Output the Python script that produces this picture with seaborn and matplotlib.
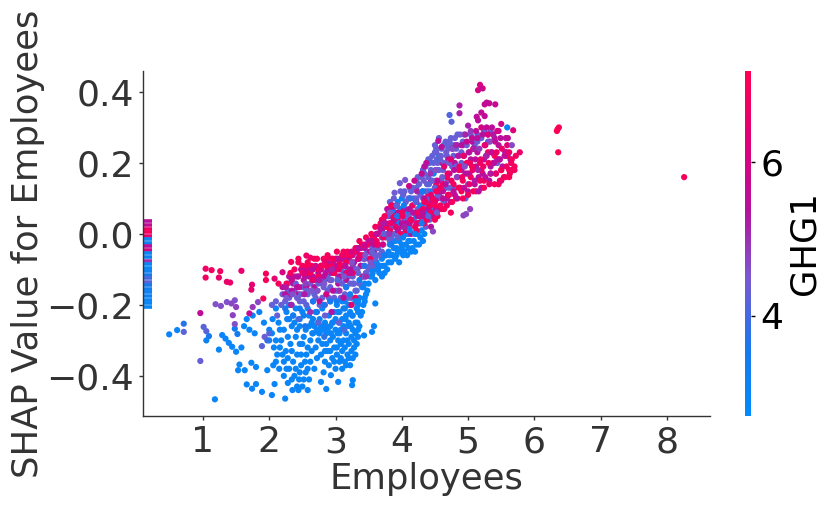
import matplotlib
matplotlib.use("Agg")
import matplotlib.pyplot as plt
import seaborn as sns
import pandas as pd
from matplotlib.colors import LinearSegmentedColormap, Normalize
from matplotlib.cm import ScalarMappable

# lone points, each with its own GHG1
sparse_x = [0.49, 0.61, 0.71, 0.71, 1.01, 1.05, 1.09, 1.05, 0.96, 0.96,
            1.18, 1.24, 1.29, 1.34, 1.39, 1.44, 1.50, 1.58, 1.48, 1.52,
            1.66, 1.80, 1.74, 1.89, 2.04, 2.24, 2.08, 1.55, 1.53, 1.63,
            1.73, 1.80, 1.97, 2.06, 2.58, 2.86, 3.26, 3.25, 3.04, 2.93,
            2.78, 3.60, 3.58, 3.55, 3.43,
            1.04, 1.13, 1.26, 1.04, 1.24, 1.36, 1.41, 1.58, 1.74, 1.73,
            1.95, 1.95, 2.08, 2.20, 2.33, 2.44, 2.56, 2.62, 1.91, 1.70,
            1.19, 1.27, 1.36, 1.48, 1.43, 1.50, 1.45, 1.48, 1.75, 1.83,
            1.93, 1.89, 1.97, 2.00,
            3.97, 3.89, 4.05, 4.47, 4.93, 5.03, 4.97, 4.75, 4.60, 4.55,
            4.37, 4.34, 4.30, 4.19, 4.11, 4.72, 4.87, 4.87, 5.00, 5.18,
            5.15, 5.22, 5.25, 5.28, 5.32, 5.13, 5.15, 5.20, 5.25, 5.41,
            5.50, 5.59, 5.68, 5.78, 6.35, 6.37, 6.34, 6.36, 8.26]
sparse_y = [-.283, -.271, -.253, -.276, -.262, -.274, -.288, -.300, -.358, -.223,
            -.466, -.326, -.285, -.295, -.307, -.318, -.332, -.320, -.267, -.282,
            -.424, -.423, -.436, -.445, -.454, -.464, -.423, -.368, -.384, -.384,
            -.363, -.375, -.384, -.370, -.440, -.437, -.412, -.426, -.417, -.398,
            -.417, -.196, -.260, -.276, -.286,
            -.098, -.102, -.105, -.123, -.123, -.135, -.137, -.104, -.143, -.157,
            -.112, -.130, -.126, -.108, -.079, -.070, -.061, -.067, -.182, -.224,
            -.198, -.203, -.192, -.187, -.196, -.206, -.229, -.254, -.206, -.192,
            -.290, -.316, -.300, -.280,
            .143, .116, .152, .007, .052, .070, .056, .316, .245, .262,
            .200, .190, .170, .150, .135, .335, .362, .340, .305, .420,
            .405, .410, .365, .370, .368, .330, .320, .342, .332, .365,
            .310, .300, .292, .230, .295, .300, .290, .230, .160]
sparse_c = [3.0, 3.0, 3.7, 4.2, 4.2, 4.2, 3.6, 3.1, 4.3, 5.6,
            3.0, 3.0, 3.0, 3.0, 3.0, 3.0, 3.0, 3.0, 3.4, 3.4,
            3.0, 3.0, 3.0, 3.0, 3.0, 3.0, 3.0, 3.0, 3.0, 3.0,
            3.0, 3.0, 3.0, 3.0, 3.0, 3.0, 3.0, 3.0, 3.0, 3.0,
            3.0, 3.0, 3.0, 3.0, 3.0,
            6.8, 6.8, 6.8, 6.8, 6.6, 6.6, 6.6, 6.5, 6.5, 6.5,
            6.9, 6.9, 6.5, 6.0, 6.8, 6.9, 6.7, 6.7, 7.0, 5.6,
            4.6, 4.6, 4.6, 4.6, 4.7, 4.8, 4.8, 4.6, 4.9, 4.7,
            4.4, 4.2, 3.9, 4.1,
            4.4, 4.4, 4.5, 4.7, 4.8, 4.8, 4.7, 4.2, 5.5, 5.5,
            5.5, 5.4, 5.7, 5.8, 5.9, 4.1, 5.2, 5.2, 5.2, 6.1,
            6.0, 5.8, 5.7, 5.6, 5.7, 5.6, 5.5, 5.6, 5.6, 5.7,
            5.9, 3.0, 6.2, 6.6, 7.1, 7.1, 7.1, 7.0, 6.9]

# the blue lower part of the cloud
low_x = [1.62, 1.70, 1.78, 1.66, 1.75, 1.85, 1.92, 2.00, 2.05, 2.10,
         2.00, 2.07, 2.12, 2.18, 2.25, 2.22, 2.15, 2.22, 2.30, 2.28,
         2.35, 2.42, 2.38, 2.45, 2.50, 2.36, 2.42, 2.48, 2.55, 2.32,
         2.40, 2.50, 2.56, 2.62, 2.60, 2.68, 2.72, 2.70, 2.62, 2.55,
         2.30, 2.38, 2.46, 2.22, 2.14, 2.30, 2.40, 2.50, 2.60, 2.68,
         2.76, 2.80, 2.78, 2.84, 2.82, 2.90, 2.95, 2.88, 2.92, 2.98,
         3.02, 3.06, 3.00, 3.10, 3.14, 3.18, 3.22, 3.26, 3.10, 3.04,
         3.12, 3.20, 3.28, 3.16, 3.24, 3.30, 3.08, 3.00, 2.92, 2.84,
         2.76, 2.70, 2.80, 2.90, 3.00, 3.10, 3.20, 3.30, 3.36, 3.38,
         3.32, 3.22, 3.12, 3.02, 2.92, 3.36, 3.42, 3.46, 3.50, 3.40,
         3.55, 3.60, 3.66, 3.70, 3.74, 3.78, 3.84, 3.90, 3.96, 4.02,
         4.08, 4.14, 4.20, 4.26, 4.32, 3.94, 4.00, 4.06, 4.12, 4.18,
         3.70, 3.62, 3.55, 3.80, 3.88, 4.24, 4.30, 3.86, 3.92, 3.98,
         3.04, 3.14, 3.24, 3.34, 3.46, 3.52, 3.64, 3.76, 3.86, 3.96]
low_y = [-.26, -.27, -.28, -.24, -.23, -.22, -.25, -.27, -.24, -.21,
         -.30, -.32, -.34, -.30, -.33, -.36, -.38, -.40, -.38, -.42,
         -.44, -.43, -.40, -.41, -.43, -.36, -.34, -.37, -.39, -.31,
         -.29, -.31, -.34, -.36, -.41, -.38, -.35, -.32, -.30, -.27,
         -.24, -.25, -.26, -.27, -.25, -.20, -.21, -.22, -.23, -.26,
         -.28, -.31, -.34, -.36, -.39, -.37, -.35, -.33, -.30, -.32,
         -.34, -.36, -.38, -.38, -.36, -.34, -.37, -.35, -.33, -.30,
         -.30, -.31, -.32, -.28, -.29, -.28, -.27, -.27, -.26, -.25,
         -.24, -.22, -.21, -.23, -.24, -.24, -.25, -.25, -.26, -.23,
         -.21, -.22, -.21, -.20, -.19, -.18, -.20, -.17, -.14, -.15,
         -.12, -.13, -.11, -.12, -.09, -.10, -.08, -.07, -.08, -.06,
         -.06, -.05, -.05, -.03, -.02, -.05, -.03, -.03, -.02, -.02,
         -.07, -.08, -.08, -.05, -.04, .00, .01, .03, .05, .07,
         -.22, -.19, -.20, -.20, -.11, -.09, -.10, -.06, -.06, -.02]

# the purple middle of the cloud
mid_x = [2.10, 2.20, 2.30, 2.28, 2.38, 2.46, 2.50, 2.58, 2.66, 2.62,
         2.72, 2.80, 2.88, 2.84, 2.76, 2.94, 3.00, 3.08, 3.16, 3.24,
         3.04, 3.12, 3.20, 3.28, 3.34, 3.26, 3.40, 3.44, 3.36, 3.50,
         3.56, 3.48, 3.60, 3.66, 3.72, 3.68, 3.76, 3.82, 3.80, 3.74,
         3.88, 3.94, 4.00, 4.06, 4.12, 4.18, 3.84, 3.92, 4.00, 4.06,
         4.12, 4.18, 4.24, 4.30, 4.36, 4.42, 4.14, 4.22, 4.28, 4.34,
         4.40, 4.46, 4.30, 4.38, 4.44, 4.50, 4.56, 4.36, 4.44, 4.52,
         4.58, 4.64, 4.46, 4.54, 4.62, 4.70, 4.50, 4.60, 4.68, 4.76,
         4.72, 4.80, 4.78, 4.86, 4.92, 4.96, 5.00, 5.10, 5.20, 5.30,
         4.56, 4.66, 4.74, 4.84, 4.94, 5.04, 5.14, 5.24, 5.34, 5.44,
         4.24, 4.34, 4.42, 4.50, 4.60, 4.70, 4.82, 4.90, 5.02, 5.60]
mid_y = [-.19, -.17, -.18, -.14, -.16, -.19, -.15, -.17, -.19, -.14,
         -.16, -.18, -.16, -.13, -.12, -.13, -.16, -.18, -.15, -.18,
         -.12, -.11, -.12, -.14, -.11, -.09, -.12, -.09, -.07, -.10,
         -.06, -.05, -.03, -.06, -.03, .00, -.01, -.02, .02, .02,
         .00, .01, .02, .00, .02, .04, .05, .08, .06, .09,
         .07, .10, .07, .04, .02, .04, .12, .13, .11, .08,
         .09, .07, .16, .14, .12, .10, .07, .19, .18, .15,
         .12, .09, .22, .20, .18, .15, .25, .24, .22, .19,
         .11, .13, .25, .22, .26, .10, .14, .25, .27, .26,
         .27, .26, .27, .28, .28, .28, .28, .29, .29, .20,
         .16, .17, .21, .23, .20, .25, .24, .20, .23, .22]

# the magenta band
high_x = [2.20, 2.30, 2.36, 2.42, 2.48, 2.54, 2.60, 2.66, 2.70, 2.78,
          2.84, 2.90, 2.96, 3.02, 3.08, 3.14, 3.20, 3.26, 3.32, 3.38,
          3.42, 3.50, 3.56, 3.62, 3.58, 3.66, 3.72, 3.80, 3.86, 3.90,
          2.30, 2.44, 2.56, 2.68, 2.80, 2.92, 3.04, 3.16, 3.28, 3.44,
          4.10, 4.16, 4.24, 4.30, 4.36, 4.42, 4.48, 4.54, 4.50, 4.58,
          4.60, 4.66, 4.72, 4.74, 4.80, 4.84, 4.80, 4.88, 4.90, 4.94,
          5.00, 5.02, 5.04, 5.06, 5.10, 5.12, 5.14, 5.20, 5.22, 5.24,
          5.26, 5.30, 5.32, 5.34, 5.36, 5.40, 5.42, 5.44, 5.46, 5.50,
          5.52, 5.56, 5.60, 5.64, 3.96, 4.02, 4.08, 4.70, 4.96, 5.16,
          4.44, 4.62, 4.76, 4.92, 5.08, 5.28, 5.38, 5.48, 5.58, 5.66]
high_y = [-.15, -.12, -.14, -.12, -.10, -.12, -.10, -.12, -.09, -.10,
          -.08, -.10, -.08, -.09, -.07, -.09, -.07, -.06, -.05, -.04,
          -.06, -.03, -.02, .00, -.05, .02, .04, .05, .07, .03,
          -.17, -.17, -.15, -.15, -.14, -.13, -.14, -.13, -.10, -.07,
          .04, .06, .03, .07, .05, .08, .05, .10, .13, .15,
          .10, .13, .17, .09, .11, .16, .20, .13, .18, .22,
          .12, .17, .21, .26, .14, .19, .23, .13, .17, .21,
          .25, .28, .15, .19, .23, .27, .17, .21, .25, .15,
          .19, .23, .27, .21, .02, .00, .02, .21, .17, .16,
          .15, .20, .24, .25, .24, .22, .20, .21, .23, .18]

# the red rim along the top of the cloud
top_x = [2.14, 2.26, 2.38, 2.50, 2.58, 2.64, 2.72, 2.82, 2.88, 2.96,
         3.02, 3.06, 3.12, 3.18, 3.24, 3.30, 3.36, 3.46, 3.54, 3.60,
         3.66, 3.70, 3.76, 3.80, 3.90, 3.94, 4.02, 4.08, 4.20, 4.28,
         4.34, 4.40, 4.46, 4.50, 4.52, 4.56, 4.64, 4.68, 4.70, 4.78,
         4.82, 4.86, 4.92, 4.98, 5.04, 5.08, 5.12, 5.18, 5.24, 5.30,
         5.34, 5.40, 5.46, 5.50, 5.54, 5.58, 5.62, 5.66, 5.70, 5.62,
         3.20, 3.30, 3.42, 4.12, 4.40, 4.52, 4.74, 4.90, 5.06, 5.20]
top_y = [-.14, -.14, -.10, -.09, -.08, -.09, -.07, -.07, -.06, -.07,
         -.05, -.08, -.05, -.05, -.08, -.04, -.02, -.01, .00, .02,
         .00, .04, .02, .06, .06, .04, .03, .05, .02, .05,
         .03, .06, .09, .04, .14, .11, .07, .16, .11, .14,
         .10, .18, .15, .20, .16, .24, .12, .20, .15, .23,
         .17, .22, .14, .18, .16, .22, .18, .21, .19, .16,
         -.20, -.18, -.12, .10, .11, .18, .06, .12, .19, .18]

# second pass over the blue part, drawn over the first red rim
low2_x = [2.04, 2.10, 2.16, 2.16, 2.20, 2.10, 2.28, 2.34, 2.28, 2.26,
          2.34, 2.40, 2.46, 2.44, 2.52, 2.48, 2.54, 2.58, 2.46, 2.52,
          2.58, 2.64, 2.66, 2.60, 2.74, 2.72, 2.78, 2.86, 2.86, 2.84,
          2.92, 2.96, 2.98, 3.02, 3.06, 3.08, 3.08, 3.14, 3.18, 3.16,
          3.20, 3.24, 3.28, 3.30, 3.32, 3.34, 3.26, 3.34, 3.18, 3.12,
          3.06, 2.96, 2.88, 2.80, 2.74, 2.66, 2.58, 2.46, 2.36, 2.26,
          3.06, 3.16, 3.26, 3.34, 3.40, 3.44, 3.30, 3.20, 3.10, 2.98,
          3.48, 3.52, 3.44, 3.56, 3.62, 3.68, 3.74, 3.80, 3.86, 3.92,
          3.98, 4.04, 4.10, 4.16, 4.22, 4.28, 4.34, 4.20, 4.10, 3.76,
          3.82, 3.90, 3.96, 4.02, 4.08, 4.14, 3.90, 3.96, 4.02, 4.08,
          3.88, 3.94, 4.00, 4.22, 4.28, 4.36, 4.32, 4.40, 4.48, 4.56]
low2_y = [-.28, -.30, -.27, -.32, -.34, -.36, -.29, -.33, -.35, -.38,
          -.41, -.38, -.39, -.44, -.41, -.34, -.36, -.38, -.31, -.29,
          -.32, -.33, -.28, -.26, -.30, -.27, -.26, -.28, -.31, -.33,
          -.33, -.29, -.36, -.32, -.28, -.31, -.35, -.32, -.30, -.37,
          -.35, -.33, -.30, -.34, -.31, -.29, -.27, -.27, -.26, -.26,
          -.25, -.25, -.27, -.27, -.25, -.24, -.21, -.24, -.23, -.22,
          -.22, -.23, -.23, -.22, -.22, -.19, -.19, -.20, -.19, -.22,
          -.16, -.12, -.14, -.10, -.10, -.09, -.11, -.08, -.06, -.06,
          -.05, -.05, -.04, -.04, -.03, -.01, .00, .00, .00, -.06,
          -.03, -.02, -.01, .00, .02, .04, .02, .03, .05, .06,
          .06, .09, .10, .05, .08, .06, .12, .12, .17, .22]

mid2_x = [2.04, 2.12, 2.18, 2.24, 2.34, 2.42, 2.40, 2.52, 2.56, 2.64,
          2.70, 2.76, 2.74, 2.84, 2.90, 2.82, 2.92, 2.98, 3.04, 3.10,
          3.14, 3.20, 3.22, 3.30, 3.36, 3.44, 3.38, 3.30, 3.18, 3.08,
          2.98, 3.42, 3.50, 3.54, 3.60, 3.64, 3.56, 3.70, 3.70, 3.78,
          3.84, 3.86, 3.78, 3.82, 3.88, 3.96, 4.04, 4.10, 4.16, 4.10,
          4.04, 3.98, 4.16, 4.22, 4.26, 4.32, 4.36, 4.42, 4.32, 4.40,
          4.46, 4.50, 4.54, 4.60, 4.40, 4.48, 4.56, 4.60, 4.66, 4.72,
          4.74, 4.82, 4.52, 4.58, 4.64, 4.70, 4.78, 4.84, 4.90, 4.98,
          5.06, 5.14, 2.28, 2.48, 2.68, 2.88, 3.06, 3.26, 3.46, 3.62]
mid2_y = [-.20, -.23, -.20, -.19, -.20, -.18, -.14, -.19, -.16, -.16,
          -.18, -.20, -.14, -.20, -.18, -.15, -.15, -.18, -.16, -.14,
          -.17, -.18, -.14, -.16, -.14, -.12, -.09, -.10, -.10, -.10,
          -.11, -.07, -.07, -.09, -.07, -.04, -.04, -.05, -.01, .00,
          -.01, .02, .05, .09, .10, .06, .04, .05, .08, .10,
          .12, .12, .13, .10, .14, .10, .12, .10, .18, .16,
          .15, .13, .11, .10, .21, .20, .18, .15, .13, .13,
          .21, .19, .23, .21, .20, .24, .22, .25, .23, .25,
          .27, .26, -.16, -.17, -.17, -.12, -.13, -.12, -.11, -.09]

high2_x = [2.24, 2.34, 2.42, 2.52, 2.60, 2.68, 2.74, 2.82, 2.88, 2.94,
           3.00, 3.06, 3.10, 3.16, 3.22, 3.28, 3.34, 3.38, 3.44, 3.52,
           3.58, 3.64, 3.70, 3.76, 3.82, 3.88, 3.94, 4.00, 4.06, 4.12,
           4.18, 4.24, 4.28, 4.34, 4.40, 4.46, 4.52, 4.56, 4.62, 4.68,
           2.38, 2.54, 2.66, 2.78, 2.90, 3.02, 3.12, 3.24, 3.36, 3.50,
           3.58, 3.68, 3.78, 3.86, 3.94, 4.04, 4.14, 4.22, 4.34, 4.44]
high2_y = [-.17, -.16, -.15, -.13, -.12, -.13, -.11, -.12, -.10, -.11,
           -.10, -.12, -.09, -.11, -.10, -.08, -.07, -.09, -.04, -.05,
           -.01, -.03, .01, .03, .03, .04, .06, .03, .03, .03,
           .06, .05, .03, .05, .07, .09, .07, .12, .12, .10,
           -.12, -.10, -.10, -.09, -.08, -.07, -.07, -.06, -.06, -.02,
           -.03, .01, .07, .08, .01, .07, .00, .09, .10, .02]

top2_x = [2.32, 2.44, 2.56, 2.68, 2.78, 2.86, 2.94, 3.00, 3.10, 3.16,
          3.22, 3.28, 3.34, 3.40, 3.48, 3.56, 3.62, 3.68, 3.74, 3.82,
          3.88, 3.98, 4.06, 4.14, 4.22, 4.32, 4.38, 4.44, 4.50, 4.54,
          2.50, 2.62, 2.74, 2.86, 2.98, 3.08, 3.18, 3.26, 3.38, 3.52,
          3.72, 3.84, 3.92, 4.00, 4.16, 4.26, 4.36, 4.46, 4.58, 4.62]
top2_y = [-.11, -.08, -.09, -.07, -.09, -.07, -.09, -.07, -.06, -.08,
          -.06, -.05, -.04, -.03, -.03, -.01, -.02, .03, .05, .01,
          .05, .00, .01, .04, .01, .07, .04, .06, .08, .05,
          -.11, -.11, -.12, -.09, -.11, -.09, -.11, -.11, -.06, -.07,
          -.01, .08, .08, .06, .08, .03, .09, .10, .08, .14]

# the middle of the cloud, colours mixed point by point
mix_x = [2.25, 2.26, 2.24, 2.27,
         2.34, 2.35, 2.33, 2.36, 2.34,
         2.44, 2.45, 2.43, 2.46, 2.44, 2.42,
         2.54, 2.55, 2.53, 2.56, 2.52, 2.54,
         2.64, 2.65, 2.63, 2.66, 2.62, 2.64, 2.65,
         2.74, 2.75, 2.73, 2.76, 2.72, 2.74, 2.75,
         2.84, 2.85, 2.83, 2.86, 2.82, 2.84, 2.85, 2.83,
         2.94, 2.95, 2.93, 2.96, 2.92, 2.94, 2.95, 2.93,
         3.04, 3.05, 3.03, 3.06, 3.02, 3.04, 3.05, 3.03,
         3.14, 3.15, 3.13, 3.16, 3.12, 3.14, 3.15, 3.13,
         3.24, 3.25, 3.23, 3.26, 3.22, 3.24, 3.25, 3.23,
         3.34, 3.35, 3.33, 3.36, 3.32, 3.34, 3.35, 3.33,
         3.44, 3.45, 3.43, 3.46, 3.42, 3.44,
         3.54, 3.55, 3.53, 3.56,
         3.62, 3.63, 3.61, 3.64,
         3.72, 3.73, 3.71, 3.74, 3.72,
         3.82, 3.83, 3.81, 3.84, 3.82,
         3.92, 3.93, 3.91, 3.94, 3.92,
         4.02, 4.03, 4.01, 4.04, 4.02, 4.00,
         4.12, 4.13, 4.11, 4.14, 4.12, 4.10,
         4.22, 4.23, 4.21, 4.24, 4.22, 4.20,
         4.32, 4.33, 4.31, 4.34, 4.32, 4.30,
         4.42, 4.43, 4.41, 4.44, 4.42, 4.40,
         4.52, 4.53, 4.51, 4.54, 4.52, 4.50, 4.53]
mix_y = [-.15, -.18, -.21, -.24,
         -.13, -.17, -.20, -.23, -.26,
         -.12, -.15, -.18, -.21, -.24, -.27,
         -.11, -.14, -.17, -.20, -.23, -.26,
         -.10, -.13, -.16, -.19, -.22, -.25, -.28,
         -.10, -.13, -.16, -.19, -.22, -.25, -.28,
         -.08, -.11, -.14, -.17, -.20, -.23, -.26, -.29,
         -.07, -.10, -.13, -.16, -.19, -.22, -.25, -.28,
         -.07, -.10, -.13, -.16, -.19, -.22, -.25, -.28,
         -.06, -.09, -.12, -.15, -.18, -.21, -.24, -.27,
         -.05, -.08, -.11, -.14, -.17, -.20, -.23, -.26,
         -.04, -.07, -.10, -.13, -.16, -.19, -.22, -.25,
         -.03, -.06, -.09, -.12, -.15, -.18,
         -.02, -.05, -.08, -.11,
         .00, -.03, -.06, -.09,
         .03, .00, -.03, -.06, -.09,
         .06, .03, .00, -.03, -.06,
         .08, .05, .02, -.01, -.04,
         .11, .08, .05, .02, -.01, -.04,
         .13, .10, .07, .04, .01, -.02,
         .15, .12, .09, .06, .03, .00,
         .18, .15, .12, .09, .06, .03,
         .20, .17, .14, .11, .08, .05,
         .24, .21, .18, .15, .12, .09, .06]
mix_c = [5.3, 4.5, 3.6, 3.2,
         5.8, 4.6, 5.2, 3.5, 3.1,
         5.4, 5.6, 4.4, 3.4, 4.0, 3.0,
         6.2, 4.8, 5.3, 4.2, 3.3, 3.6,
         5.6, 6.5, 4.5, 3.5, 5.0, 3.2, 3.1,
         6.6, 5.3, 4.6, 5.6, 3.4, 4.2, 3.0,
         6.5, 5.6, 4.5, 6.0, 3.6, 4.4, 3.2, 3.8,
         6.8, 5.2, 4.4, 5.5, 3.5, 5.4, 3.2, 3.0,
         5.6, 6.6, 4.2, 5.0, 3.4, 3.2, 4.3, 3.0,
         6.7, 5.4, 4.5, 3.5, 5.6, 3.3, 3.1, 4.0,
         6.0, 4.6, 5.5, 4.3, 3.4, 6.5, 3.2, 3.0,
         5.4, 6.2, 4.4, 3.6, 4.2, 3.1, 3.0, 3.0,
         5.8, 4.5, 3.7, 5.0, 3.2, 3.0,
         5.5, 4.3, 4.6, 3.1,
         5.6, 6.6, 4.3, 3.2,
         5.3, 4.2, 6.0, 3.4, 3.0,
         4.5, 6.7, 5.0, 3.5, 3.0,
         4.2, 3.6, 6.5, 4.2, 3.0,
         4.3, 3.4, 6.8, 5.2, 3.2, 3.0,
         4.2, 3.8, 5.4, 6.8, 3.3, 3.0,
         4.3, 5.2, 4.1, 6.7, 6.5, 3.1,
         4.2, 4.4, 3.6, 6.8, 5.4, 3.4,
         4.1, 5.0, 4.2, 6.5, 6.8, 4.2,
         4.3, 4.2, 4.6, 5.8, 6.8, 6.7, 4.4]

# densest stretch of the band, colours mixed point by point
band_x = [4.60, 4.62, 4.58, 4.61, 4.64, 4.59, 4.63,
          4.68, 4.70, 4.66, 4.69, 4.71, 4.67, 4.72,
          4.76, 4.78, 4.75, 4.79, 4.74, 4.77, 4.80,
          4.84, 4.86, 4.83, 4.87, 4.85, 4.82, 4.88,
          4.92, 4.94, 4.91, 4.95, 4.93, 4.90, 4.96,
          5.00, 5.02, 4.99, 5.03, 5.01, 4.98, 5.04,
          5.08, 5.10, 5.07, 5.11, 5.09, 5.06, 5.12,
          5.16, 5.18, 5.15, 5.19, 5.17, 5.14, 5.20,
          5.24, 5.26, 5.23, 5.27, 5.25, 5.22, 5.28,
          5.32, 5.34, 5.31, 5.35, 5.33, 5.30, 5.36,
          5.40, 5.42, 5.39, 5.43, 5.41, 5.38, 5.44,
          5.48, 5.50, 5.47, 5.51, 5.49, 5.46,
          5.56, 5.58, 5.55, 5.59, 5.57,
          5.63, 5.65, 5.62, 5.66, 5.70, 5.72]
band_y = [.07, .10, .13, .16, .19, .22, .25,
          .08, .11, .14, .17, .20, .23, .26,
          .09, .12, .15, .18, .21, .24, .27,
          .10, .13, .16, .19, .22, .25, .28,
          .10, .13, .16, .19, .22, .25, .28,
          .11, .14, .17, .20, .23, .26, .29,
          .12, .15, .18, .21, .24, .27, .29,
          .12, .15, .18, .21, .24, .27, .30,
          .13, .16, .19, .22, .25, .28, .30,
          .14, .17, .20, .23, .26, .28, .30,
          .14, .17, .20, .23, .26, .28, .29,
          .15, .18, .21, .24, .27, .29,
          .16, .19, .22, .25, .27,
          .17, .20, .23, .25, .18, .22]
band_c = [6.9, 5.5, 6.8, 4.4, 6.5, 4.3, 4.2,
          6.8, 6.9, 5.4, 6.7, 4.5, 4.4, 4.3,
          6.9, 5.5, 6.8, 5.6, 6.4, 4.6, 4.3,
          5.4, 6.9, 4.8, 6.8, 5.3, 5.2, 4.4,
          6.9, 5.6, 6.7, 4.6, 6.6, 5.4, 5.2,
          6.8, 6.6, 5.4, 6.8, 5.5, 5.7, 4.9,
          6.9, 5.3, 6.7, 5.5, 5.2, 5.6, 5.6,
          5.4, 6.8, 5.2, 6.6, 4.9, 5.5, 6.0,
          6.9, 5.5, 6.7, 5.2, 6.5, 5.4, 5.7,
          6.6, 5.3, 6.8, 5.6, 4.7, 6.2, 5.5,
          6.9, 6.6, 5.4, 6.7, 5.6, 5.3, 5.8,
          6.7, 6.9, 5.4, 6.6, 5.5, 6.0,
          6.9, 6.7, 5.5, 6.4, 5.6,
          6.9, 6.8, 6.7, 4.7, 6.9, 6.8]

# points without an Employees value, drawn as ticks on the left spine
nan_shap = [.035, .025, .015, .005, -.005, -.015, -.025, -.035, -.045, -.055,
            -.065, -.075, -.085, -.095, -.105, -.115, -.125, -.135, -.145, -.155,
            -.165, -.175, -.185, -.195, -.205]
nan_ghg = [5.4, 5.6, 6.8, 6.9, 6.5, 3.0, 3.2, 5.5, 6.0, 3.0,
           3.1, 5.0, 3.0, 2.9, 3.1, 3.6, 4.0, 4.2, 3.6, 3.3,
           3.2, 3.1, 3.0, 2.9, 2.9]

low_level, mid_level, high_level, top_level = 3.0, 4.3, 5.4, 6.9

frames = [
    pd.DataFrame({"x": low_x, "y": low_y, "c": low_level}),
    pd.DataFrame({"x": mid_x, "y": mid_y, "c": mid_level}),
    pd.DataFrame({"x": high_x, "y": high_y, "c": high_level}),
    pd.DataFrame({"x": top_x, "y": top_y, "c": top_level}),
    pd.DataFrame({"x": low2_x, "y": low2_y, "c": low_level}),
    pd.DataFrame({"x": mid2_x, "y": mid2_y, "c": mid_level}),
    pd.DataFrame({"x": high2_x, "y": high2_y, "c": high_level}),
    pd.DataFrame({"x": top2_x, "y": top2_y, "c": top_level}),
    pd.DataFrame({"x": mix_x, "y": mix_y, "c": mix_c}),
    pd.DataFrame({"x": band_x, "y": band_y, "c": band_c}),
    pd.DataFrame({"x": sparse_x, "y": sparse_y, "c": sparse_c}),
]
df = pd.concat(frames, ignore_index=True)

red_blue = LinearSegmentedColormap.from_list(
    "red_blue",
    [(0.0, "#008bfb"), (0.2, "#1a78ee"), (0.4, "#7b58cf"),
     (0.6, "#b6109f"), (0.8, "#e00078"), (1.0, "#ff0051")],
)
norm = Normalize(2.7, 7.18)

sns.set_style("white")
W, H = 831, 508
fig = plt.figure(figsize=(W / 100, H / 100), dpi=100)
ax = fig.add_axes([143 / W, 1 - 416 / H, 567 / W, 345 / H])

sns.scatterplot(data=df, x="x", y="y", hue="c", palette=red_blue, hue_norm=norm,
                s=20, linewidth=0, legend=False, ax=ax)
ax.scatter([0.095] * len(nan_shap), nan_shap, c=nan_ghg, cmap=red_blue, norm=norm,
           marker=1, s=44, linewidths=2.6)

ax.set_xlim(0.095, 8.65)
ax.set_ylim(-0.513, 0.459)
ax.set_xticks(range(1, 9))
ax.set_yticks([-0.4, -0.2, 0.0, 0.2, 0.4])
ax.set_xlabel("Employees", fontsize=25.5, color="#333333", labelpad=2)
ax.set_ylabel("SHAP Value for Employees", fontsize=25.5, color="#333333", labelpad=1)
ax.tick_params(labelsize=26, colors="#333333", length=3, width=1, left=True, bottom=True)
sns.despine(ax=ax)
for side in ["left", "bottom"]:
    ax.spines[side].set_color("#333333")
    ax.spines[side].set_linewidth(1)

cax = fig.add_axes([745 / W, 1 - 416 / H, 6 / W, 345 / H])
cb = fig.colorbar(ScalarMappable(norm=norm, cmap=red_blue), cax=cax)
cb.set_ticks([4, 6])
cb.outline.set_visible(False)
cax.tick_params(labelsize=26, length=3, width=1, colors="black")
cb.set_label("GHG1", fontsize=25.5, color="black", labelpad=3)

fig.savefig("out.png", dpi=100)
